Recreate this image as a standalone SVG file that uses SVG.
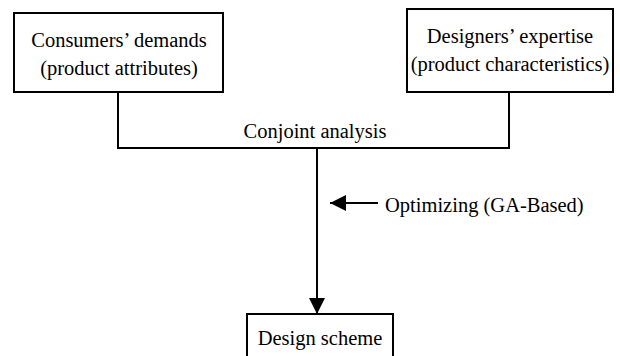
<svg xmlns="http://www.w3.org/2000/svg" width="620" height="356" viewBox="0 0 620 356">
<style>
.box{fill:#fff;stroke:#000;stroke-width:2}
.ln{fill:none;stroke:#000;stroke-width:2}
text{font-family:"Liberation Serif","Times New Roman",serif;font-size:20.5px;fill:#000}
.c{text-anchor:middle}
</style>
<defs>
<marker id="ah" markerWidth="16" markerHeight="16" refX="16" refY="8" orient="auto" markerUnits="userSpaceOnUse">
<path d="M0,0 L16,8 L0,16 Z" fill="#000"/>
</marker>
</defs>
<rect width="620" height="356" fill="#fff"/>
<g id="connectors">
<polyline class="ln" points="118,92 118,148 509,148 509,92"/>
<line class="ln" x1="317" y1="148" x2="317" y2="314" marker-end="url(#ah)"/>
<line class="ln" x1="378" y1="203" x2="330" y2="203" marker-end="url(#ah)"/>
<text x="315" y="138" class="c">Conjoint analysis</text>
<text x="385" y="212">Optimizing (GA-Based)</text>
</g>
<g id="consumers">
<rect class="box" x="14" y="13" width="209" height="79"/>
<text x="119" y="47" class="c">Consumers’ demands</text>
<text x="119" y="75" class="c">(product attributes)</text>
</g>
<g id="designers">
<rect class="box" x="407" y="9" width="206" height="83"/>
<text x="510" y="43" class="c">Designers’ expertise</text>
<text x="510" y="71" class="c">(product characteristics)</text>
</g>
<g id="scheme">
<rect class="box" x="247" y="314" width="146" height="50"/>
<text x="320" y="345" class="c">Design scheme</text>
</g>
</svg>
